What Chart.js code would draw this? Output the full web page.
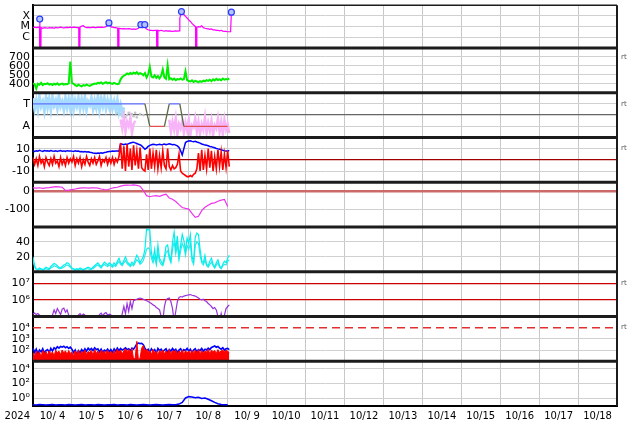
<!DOCTYPE html>
<html><head><meta charset="utf-8">
<script src="https://cdn.jsdelivr.net/npm/chart.js@4.4.0/dist/chart.umd.min.js"></script>
<style>html,body{margin:0;padding:0;background:#fff;}canvas{display:block;}</style>
</head><body>
<canvas id="c" width="634" height="424"></canvas>
<script>
// ---------------- axis labels ----------------
const YEAR_LABEL = '2024';
const DAY_LABELS = ['10/ 4','10/ 5','10/ 6','10/ 7','10/ 8','10/ 9','10/10','10/11','10/12','10/13','10/14','10/15','10/16','10/17','10/18'];
const XRAY_TICKS = [1e-6, 1e-5, 1e-4];      const XRAY_LABELS = ['C', 'M', 'X'];
const SPEED_TICKS = [400, 500, 600, 700];   const SPEED_LABELS = ['400', '500', '600', '700'];
const SECTOR_TICKS = [-1, 0, 1];            const SECTOR_LABELS = ['A', '', 'T'];
const IMF_TICKS = [-10, 0, 10];             const IMF_LABELS = ['-10', '0', '10'];
const DST_TICKS = [-100, 0];                const DST_LABELS = ['-100', '0'];
const KP_TICKS = [20, 40];                  const KP_LABELS = ['20', '40'];
const ELEC_TICKS = [1e6, 1e7];              const ELEC_LABELS = ['10\u2076', '10\u2077'];
const PROT_TICKS = [1e2, 1e3, 1e4];         const PROT_LABELS = ['10\u00b2', '10\u00b3', '10\u2074'];
const HEP_TICKS = [1, 1e2, 1e4];            const HEP_LABELS = ['10\u2070', '10\u00b2', '10\u2074'];
const RT_LABEL = 'rt';

// ---------------- data (time in hours from 10/4 00:00) ----------------
// X-ray flux, in 1e-6 W/m2
const XRAY_HOURS = [0,1,2,3,4,4.15,4.3,4.8,5,6,7,8,9,10,11,12,13,14,15,16,17,18,19,20,21,22,23,24,25,26,27,28.2,28.3,28.8,29,30,31,32,33,34,35,36,37,38,39,40,41,42,43,44,45,46,46.8,47.5,48,49,50,51,52.2,52.3,52.8,53,54,55,56,57,58,59,60,61,62,63,64,65,66,66.5,67.5,68.9,69.5,70,71,72,73,74,75,76.2,76.3,76.8,77,78,79,80,81,82,83,84,85,86,87,88,89,90,90.5,91.5,92,93,94,95,96,97,98,99,100.2,100.3,100.8,101,102,103,104,105,106,107,108,109,110,111,112,113,114,115,116,117,118,119,120,121,121.8,122.3];
const XRAY_FLUX  = [8,9,8,8.5,9,50,0.001,0.001,8,7,8,7.5,7,8,7.5,8,7,8.5,7.5,8,9,8,7.5,8,8.5,8,9,8,9,8.5,8,8,0.001,0.001,9,11,12,9,8,8.5,8,8,9,8,8,9,8.5,9,8.5,9,10,13,22,12,10,9,8,8,7,0.001,0.001,7,6.5,6,6.5,6,6,6.5,6,5.5,6,5.5,6,7,10,15,8,15,7,6,5,4.5,4.5,4.2,4.5,4.5,0.001,0.001,4.5,4,4.5,4,3.8,4.2,3.8,4,3.8,3.6,3.8,4,3.8,4,60,256,195,135,90,63,43,30,20,14,9.5,0.001,0.001,9,10,9,12,8,7,6.5,6,5.5,6,5,5,4.5,4.5,4,4.5,3.8,3.5,3.5,3.3,3.3,3.3,224];
const FLARE_HOURS = [4.15, 46.8, 66.5, 68.9, 91.5, 122.3];
const FLARE_PEAKS = [50, 22, 15, 15, 256, 224];

// hourly series, h = 0 .. 121
const SPEED = [
 405,395,345,400,390,410,385,400,395,405,390,398,385,400,392,405,388,396,402,390,398,394,405,648,
 410,400,385,375,390,380,372,385,378,390,382,376,388,395,402,398,410,405,415,400,410,418,405,412,
 405,398,410,402,395,400,450,475,490,500,515,505,520,510,525,515,530,508,520,512,495,520,470,505,
 590,480,470,495,465,485,460,490,560,470,455,604,450,462,445,458,440,452,448,460,445,450,540,440,
 430,425,438,420,432,425,418,430,422,435,428,440,432,445,430,450,438,455,442,450,440,458,445,452,
 448,460];
const BT = [
 8,7.5,8.2,7.8,8.5,8,7.6,8.3,7.9,8.1,7.7,8.4,8,7.8,8.2,7.5,8,8.3,7.8,8,7.6,8.2,7.9,8,
 7.8,7.5,8,7.6,7.8,7.2,7.5,7.0,7.4,7.1,7.3,6.8,6.5,6.2,6,5.8,6.2,5.9,6.3,6.0,6.5,6.8,7.2,7.4,
 7.5,7.8,7.6,7.9,8,7.7,14.5,14,13.5,14.2,13.8,14.5,15,15.5,15.8,15.2,14.6,14,13.5,12.5,11,9.5,10.5,12,
 13,13.5,14,13.8,13.2,13.6,14,13.5,13.8,14.2,13.6,13.9,14.3,14,13.5,13.8,13.2,12.5,11,8,4.5,10,15.5,16.5,
 16.8,17,16.5,16.2,16.6,16,15.5,15,14.2,13.8,13.2,13,12.6,12,11.8,11.2,10.8,10.2,9.8,9.5,9,8.5,8.2,8,
 7.8,8.5];
const BZ = [
 2,-4,1,-5,3,-3,0,-6,2,-2,-5,1,-4,3,-3,-1,-6,2,-4,0,-5,2,-3,1,
 -2,3,-5,1,-3,2,-6,0,-4,3,-2,-5,1,-3,2,-4,-1,3,-5,0,-2,2,-4,1,
 -3,2,-4,1,-2,3,15,-8,12,-10,14,-6,10,-9,13,-5,8,-8,11,-7,-9,-10,5,-9,
 10,-8,6,-6,9,-8,4,-7,8,-5,-8,10,-6,-9,-5,-8,-7,-4,5,-10,-12,-13,-14,-15,
 -15,-14,-15,-13,-12,-8,6,-10,9,-9,4,-8,10,-7,8,-10,3,-8,9,-6,7,-9,5,-7,
 8,-6];
const INDEX_A = [
 20,8,4,3,5,4,3,4,6,5,4,7,9,11,10,8,6,5,7,9,10,12,11,8,
 5,4,3,4,3,5,4,3,4,5,6,5,4,6,8,10,12,9,7,10,13,11,9,12,
 10,8,12,9,14,18,12,10,15,20,14,11,9,13,10,16,22,18,12,16,20,30,57,56,
 56,25,16,30,12,36,18,14,10,20,34,36,22,15,40,53,30,48,20,35,50,42,28,45,
 38,50,20,14,46,52,50,30,15,12,22,10,8,14,18,10,6,12,16,8,5,10,14,12,
 18,22];
const INDEX_B = [
 16,6,3,2,3,3,2,3,4,3,3,5,6,8,7,6,4,4,5,6,8,9,8,6,
 4,3,2,3,2,3,3,2,3,4,4,3,3,4,6,8,9,7,5,8,10,8,7,9,
 8,6,9,7,11,14,10,8,12,15,11,9,7,10,8,12,16,14,10,12,15,22,30,32,
 30,18,12,20,10,25,14,10,8,15,26,28,18,12,30,40,24,36,16,28,38,33,22,35,
 30,38,15,10,35,40,38,22,12,9,16,8,6,10,13,8,5,9,12,6,4,8,10,9,
 14,16];
const ELECTRON = [
 1.4e5,1.6e5,1.3e5,1.5e5,1.2e5,5e4,5e4,5e4,5e4,5e4,5e4,5e4,1.2e5,2.5e5,1.5e5,3e5,2e5,1.3e5,2.8e5,3.2e5,1.8e5,2.5e5,1.2e5,5e4,
 5e4,5e4,5e4,5e4,1.2e5,1.5e5,1.1e5,1.4e5,1.2e5,5e4,5e4,5e4,5e4,5e4,5e4,5e4,5e4,1.3e5,1.6e5,1.1e5,1.5e5,1.7e5,1.2e5,1.4e5,
 1.3e5,5e4,5e4,5e4,5e4,5e4,5e4,1.5e5,4e5,1.5e5,6e5,2e5,8e5,3e5,9e5,1e6,1.1e6,1.2e6,1.3e6,1.2e6,1.1e6,1e6,9e5,8e5,
 7e5,6e5,5e5,4.5e5,3.5e5,3e5,2.5e5,1e5,5e4,4e5,1e6,1.2e6,1.3e6,8e5,3e5,5e4,2e5,8e5,1.4e6,1.6e6,1.5e6,1.7e6,1.8e6,1.9e6,
 2e6,2.1e6,1.9e6,1.8e6,1.7e6,1.5e6,1.3e6,1.1e6,1e6,1.1e6,9e5,8e5,6e5,5e5,4e5,3e5,3.5e5,2.5e5,1e5,5e4,1.5e5,5e4,1.2e5,3e5,
 4e5,5e5];
const PROTON_BLUE = [
 150,60,120,45,100,70,130,50,90,110,60,140,80,160,120,200,150,210,180,220,160,200,140,180,
 120,60,100,40,90,55,110,70,130,80,150,100,140,90,160,110,130,70,120,60,100,80,120,70,
 110,60,130,80,150,90,140,100,120,160,110,130,90,150,120,200,350,420,380,400,300,150,90,120,
 60,130,80,110,50,140,90,120,70,100,130,60,110,80,140,90,120,60,100,130,70,110,90,140,
 80,120,60,100,130,70,110,90,140,80,120,100,150,110,170,200,230,180,210,150,120,160,100,130,
 140,110];
const PROTON_RED = [
 60,30,80,40,70,25,90,50,75,35,85,45,70,30,95,60,80,40,100,55,85,40,90,50,
 70,30,85,45,95,35,80,55,100,40,75,60,90,35,110,50,85,40,95,60,80,45,100,55,
 75,40,90,50,120,60,100,45,85,130,70,110,60,140,15,20,600,12,20,150,250,80,120,60,
 90,40,110,55,80,35,95,60,100,45,85,55,110,40,90,65,100,45,80,60,105,40,90,55,
 85,45,100,50,90,60,110,40,95,55,80,65,120,45,100,70,90,50,110,60,85,95,70,100,
 80,60];
const PROTON_ALERT = 1e4;

// two-hourly series, h = 0 .. 120
const DST = [18,17,19,16,18,20,23,25,24,22,4,6,9,12,16,18,19,17,18,19,17,12,9,8,15,20,22,28,32,34,33,35,32,28,5,-25,-31,-27,-25,-29,-22,-17,-38,-45,-58,-75,-91,-96,-100,-124,-146,-140,-109,-90,-78,-68,-65,-56,-50,-46,-85];
const HIGH_E = [
 0.15,0.14,0.16,0.15,0.14,0.15,0.16,0.14,0.15,0.15,0.14,0.16,
 0.15,0.14,0.15,0.16,0.14,0.15,0.15,0.14,0.16,0.15,0.14,0.15,
 0.15,0.16,0.14,0.15,0.15,0.14,0.16,0.15,0.14,0.15,0.16,0.15,
 0.14,0.15,0.16,0.15,0.14,0.15,0.16,0.15,0.15,0.18,0.3,1.2,
 1.8,1.6,1.3,1.5,1.0,1.2,0.8,0.5,0.3,0.2,0.16,0.15,
 0.15];

// IMF sector (T = +1, A = -1)
const SECTOR_HOURS = [0, 69, 72, 81, 84, 90.5, 93, 120];
const SECTOR_VALS  = [1, 1, -1, -1, 1, 1, -1, -1];
const TOWARD_CLOUD = [
 1.5,0.6,1.3,0.5,1.6,0.8,1.2,0.4,1.5,0.7,1.4,0.5,1.6,0.9,1.3,0.6,1.7,0.8,1.2,0.5,1.5,0.7,1.4,0.6,
 1.6,0.5,1.3,0.8,1.5,0.6,1.4,0.7,1.6,0.5,1.2,0.9,1.5,0.6,1.3,0.7,1.6,0.5,1.4,0.8,1.5,0.6,1.3,0.7,
 1.4,0.6,1.2,0.5,1.3,0.3,0.9,0.2,0.7];
const GREY_HOURS = [2,6,9,13,17,21,26,30,34,38,42,46,50,52,54,55,56,57,58,59,60,61,62,63,64,66,68];
const GREY_VALS  = [1.2,0.9,1.5,0.7,1.3,1.0,0.8,1.4,1.1,0.6,1.6,0.9,1.2,0.2,0.1,-0.1,0.3,-0.2,0.0,0.2,-0.3,0.1,-0.1,0.2,-0.2,0.1,0.0];
const AWAY_CLOUD_1 = [-0.4,-1.2,-0.2,-1.5,-0.6,-1.0,-0.3,-1.6,-0.8,-0.5];            // from h54
const AWAY_CLOUD_2 = [-0.4,-1.5,-0.6,-1.3,-0.3,-1.7,-0.8,-1.2,-0.5,-1.6,-0.7,-1.4,-0.4,-1.8,-0.9,-1.1,-0.3,-1.5,-0.6,-1.7,
 -0.8,-1.3,-0.2,-1.6,-0.7,-1.4,-0.5,-1.8,-0.9,-1.2,-0.3,-1.5,-0.6,-1.7,-0.4,-1.3,-0.8,-1.6];   // from h84

// ---------------- helpers ----------------
function evenSeries(start, step, vals, unit) {
  unit = unit || 1;
  return vals.map((v, i) => ({x: start + i * step, y: v * unit}));
}
function pairSeries(hours, vals, unit) {
  unit = unit || 1;
  return hours.map((h, i) => ({x: h, y: vals[i] * unit}));
}
function ln(yAxisID, data, color, width, extra) {
  return Object.assign({type: 'line', yAxisID, xAxisID: 'x', data, borderColor: color, backgroundColor: color,
    borderWidth: width, pointRadius: 0, tension: 0, fill: false}, extra || {});
}
const GRID = '#d0d0d0';
function noPad(s) { s.paddingTop = 0; s.paddingBottom = 0; s.paddingLeft = 0; s.paddingRight = 0; }
function yAxis(weight, stackWeight, cfg) {
  const special = cfg.special || {};
  return {
    type: cfg.type || 'linear', min: cfg.min, max: cfg.max, position: 'left',
    stack: 'panels', stackWeight, weight,
    afterBuildTicks: s => { s.ticks = cfg.ticks.map(v => ({value: v})); },
    afterFit: s => { s.width = 33; noPad(s); },
    ticks: {autoSkip: false, padding: 3, color: '#000', font: {size: 11},
      callback: (v, i) => cfg.labels[i]},
    grid: {drawTicks: false,
      color: c => (c.tick && special[c.tick.value]) ? special[c.tick.value][0] : GRID,
      lineWidth: c => (c.tick && special[c.tick.value]) ? special[c.tick.value][1] : 1},
    border: {color: '#000', width: 2}
  };
}

const RT_MARKS = [['ySpeed', 700], ['ySector', 1], ['yImf', 10], ['yElec', 1e7], ['yProt', 1e4]];

const panelPlugin = {
  id: 'panels',
  beforeDatasetDraw(chart, args) {
    const ys = args.meta.yScale, a = chart.chartArea, ctx = chart.ctx;
    ctx.save();
    ctx.beginPath();
    ctx.rect(a.left, ys.top, a.right - a.left, ys.bottom - ys.top);
    ctx.clip();
  },
  afterDatasetDraw(chart) { chart.ctx.restore(); },
  afterDraw(chart) {
    const ctx = chart.ctx, a = chart.chartArea;
    ctx.save();
    ctx.strokeStyle = '#1c1c1c';
    const seg = (x1, y1, x2, y2, w) => { ctx.lineWidth = w; ctx.beginPath(); ctx.moveTo(x1, y1); ctx.lineTo(x2, y2); ctx.stroke(); };
    Object.values(chart.scales).forEach(s => {
      if (s.axis === 'y' && s.top > a.top + 1) seg(a.left, s.top, a.right, s.top, 3);
    });
    seg(a.left, a.top, a.right, a.top, 1.5);
    seg(a.right, a.top, a.right, a.bottom, 2);
    ctx.fillStyle = '#555';
    ctx.font = '7px "DejaVu Sans"';
    ctx.textAlign = 'left'; ctx.textBaseline = 'middle';
    RT_MARKS.forEach(([id, v]) => ctx.fillText(RT_LABEL, a.right + 4, chart.scales[id].getPixelForValue(v)));
    ctx.fillStyle = '#000';
    ctx.font = '10px "DejaVu Sans"';
    ctx.textAlign = 'right';
    ctx.fillText(YEAR_LABEL, a.left - 3, chart.scales.x.top + 10);
    ctx.restore();
  }
};

Chart.defaults.font.family = '"DejaVu Sans", sans-serif';
Chart.defaults.color = '#000';

const datasets = [
  ln('yXray', pairSeries(FLARE_HOURS, FLARE_PEAKS, 1e-6), '#2b3cff', 1, {showLine: false, pointRadius: 3, pointBorderWidth: 1.2, pointBackgroundColor: '#b4c4ff', pointBorderColor: '#2b3cff'}),
  ln('yXray', pairSeries(XRAY_HOURS, XRAY_FLUX, 1e-6), '#ff00ff', 1.2),
  ln('ySpeed', evenSeries(0, 1, SPEED), '#00ee00', 2),
  ln('ySector', pairSeries(SECTOR_HOURS, SECTOR_VALS), '#6070ff', 1.3, {segment: {borderColor: c => {
    const a = c.p0.parsed.y, b = c.p1.parsed.y;
    return (a > 0 && b > 0) ? '#6070ff' : (a < 0 && b < 0) ? '#e05050' : '#5b6b45'; }}}),
  ln('ySector', evenSeries(54, 1, AWAY_CLOUD_1), '#f8b4f8', 2.5),
  ln('ySector', evenSeries(84, 1, AWAY_CLOUD_2), '#f8b4f8', 2.5),
  ln('ySector', evenSeries(0, 1, TOWARD_CLOUD), '#a8dcff', 3),
  ln('ySector', pairSeries(GREY_HOURS, GREY_VALS), '#c4c4c4', 1, {showLine: false, pointRadius: 1.3, pointBorderWidth: 0}),
  ln('yImf', evenSeries(0, 1, BZ), '#ff0000', 1.6),
  ln('yImf', evenSeries(0, 1, BT), '#0000ff', 1.5),
  ln('yDst', evenSeries(0, 2, DST), '#ee33ee', 1.2),
  ln('yIdx', evenSeries(0, 1, INDEX_A), '#00f0f0', 1.2),
  ln('yIdx', evenSeries(0, 1, INDEX_B), '#33e6e6', 1.2),
  ln('yElec', evenSeries(0, 1, ELECTRON), '#9933dd', 1.2),
  ln('yProt', [{x: 0, y: PROTON_ALERT}, {x: 360, y: PROTON_ALERT}], '#e03030', 1.5, {borderDash: [8, 5]}),
  ln('yProt', evenSeries(0, 1, PROTON_RED), '#ff0000', 1, {fill: 'start', backgroundColor: '#ff0000'}),
  ln('yProt', evenSeries(0, 1, PROTON_BLUE), '#0000ff', 1.6),
  ln('yHep', evenSeries(0, 2, HIGH_E), '#0000ff', 1.5)
];

const DAY_TICKS = DAY_LABELS.map((_, i) => i * 24).concat([DAY_LABELS.length * 24]);

new Chart(document.getElementById('c'), {
  type: 'line',
  data: {datasets},
  plugins: [panelPlugin],
  options: {
    responsive: false, animation: false, devicePixelRatio: 1, events: [],
    layout: {padding: {top: 3, right: 17, bottom: 0, left: 0}},
    plugins: {legend: {display: false}, tooltip: {enabled: false}},
    scales: {
      x: {type: 'linear', position: 'bottom', min: 0, max: DAY_TICKS[DAY_TICKS.length - 1],
        afterBuildTicks: s => { s.ticks = DAY_TICKS.map(v => ({value: v})); },
        afterFit: s => { s.height = 18; noPad(s); },
        ticks: {autoSkip: false, maxRotation: 0, labelOffset: 19.5, padding: 4, color: '#000', font: {size: 10},
          callback: (v, i) => DAY_LABELS[i] || ''},
        grid: {drawTicks: false, color: '#c8c8c8', lineWidth: 1},
        border: {color: '#000', width: 2}},
      yXray:   yAxis(9, 43, {type: 'logarithmic', min: 1e-7, max: 1e-3, ticks: XRAY_TICKS, labels: XRAY_LABELS}),
      ySpeed:  yAxis(8, 45, {min: 300, max: 800, ticks: SPEED_TICKS, labels: SPEED_LABELS}),
      ySector: yAxis(7, 45, {min: -2, max: 2, ticks: SECTOR_TICKS, labels: SECTOR_LABELS, special: {0: ['#666', 1.2]}}),
      yImf:    yAxis(6, 45, {min: -20, max: 20, ticks: IMF_TICKS, labels: IMF_LABELS, special: {0: ['#a00000', 1.3]}}),
      yDst:    yAxis(5, 45, {min: -200, max: 50, ticks: DST_TICKS, labels: DST_LABELS, special: {0: ['#cc6a6a', 2.5]}}),
      yIdx:    yAxis(4, 45, {min: 0, max: 60, ticks: KP_TICKS, labels: KP_LABELS}),
      yElec:   yAxis(3, 45, {type: 'logarithmic', min: 1e5, max: 5e7, ticks: ELEC_TICKS, labels: ELEC_LABELS, special: {1000000: ['#cc0000', 1.3], 10000000: ['#cc0000', 1.3]}}),
      yProt:   yAxis(2, 45, {type: 'logarithmic', min: 10, max: 1e5, ticks: PROT_TICKS, labels: PROT_LABELS, special: {10000: ['rgba(0,0,0,0)', 1]}}),
      yHep:    yAxis(1, 45, {type: 'logarithmic', min: 0.1, max: 1e5, ticks: HEP_TICKS, labels: HEP_LABELS})
    }
  }
});
</script>
</body></html>
